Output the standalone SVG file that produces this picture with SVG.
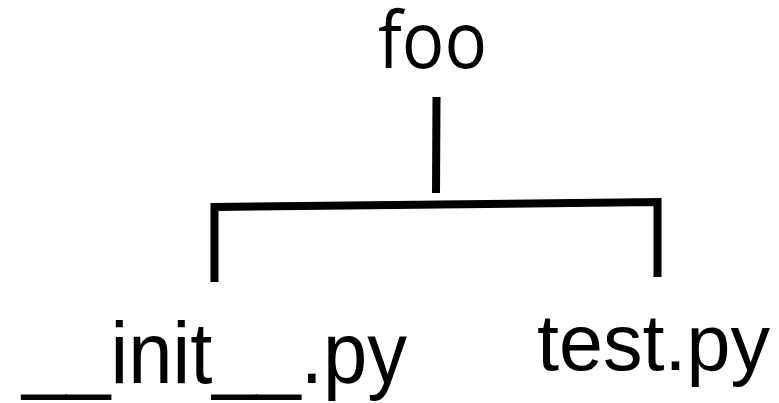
<svg xmlns="http://www.w3.org/2000/svg" width="779" height="403" viewBox="0 0 779 403">
<style>
.lbl{font-family:"Liberation Sans",Arial,sans-serif;fill:#000}
.ln{stroke:#000;stroke-width:8;fill:none;stroke-linecap:butt;stroke-linejoin:miter}
</style>
<rect width="779" height="403" fill="#fff"/>
<g id="connectors">
<line class="ln" x1="436.5" y1="97" x2="436" y2="193"/>
<polyline class="ln" points="214.5,282 214.5,207 657.5,202 657.5,277"/>
</g>
<g id="foo">
<text class="lbl" x="378" y="68" font-size="79" textLength="109" lengthAdjust="spacingAndGlyphs" style="font-family:'Open Sans','Liberation Sans',sans-serif">foo</text>
</g>
<g id="init">
<text class="lbl" x="22" y="383" font-size="88" textLength="385" lengthAdjust="spacingAndGlyphs">__init__.py</text>
</g>
<g id="test">
<text class="lbl" x="537" y="370" font-size="80" textLength="233" lengthAdjust="spacingAndGlyphs">test.py</text>
</g>
</svg>
